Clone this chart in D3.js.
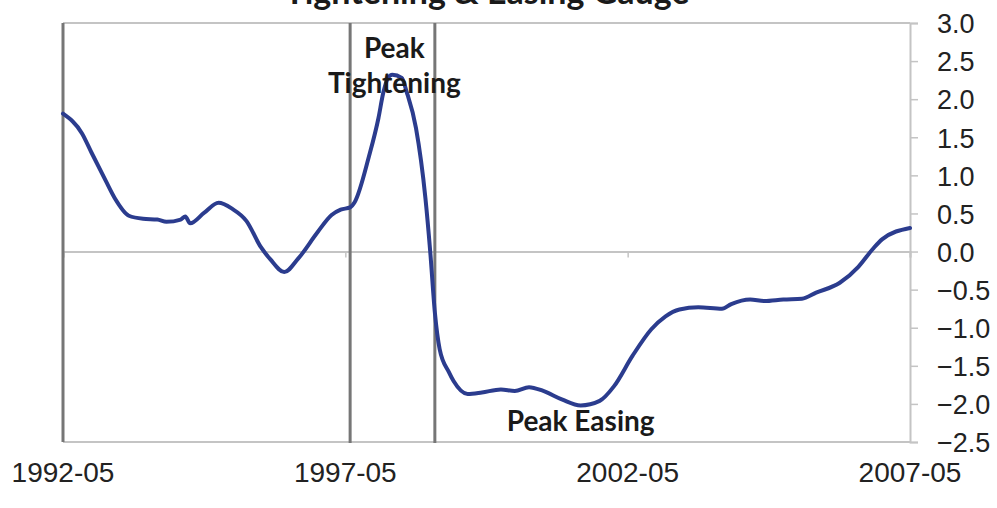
<!DOCTYPE html>
<html>
<head>
<meta charset="utf-8">
<script src="https://cdn.jsdelivr.net/npm/d3@7/dist/d3.min.js"></script>
<style>
  html, body { margin: 0; padding: 0; background: #ffffff; }
  svg { display: block; }
</style>
</head>
<body>
<svg id="chart" width="997" height="508"></svg>
<script>
// ---- data ----
const title = "Tightening & Easing Gauge";
const dates = ["1992-05","1992-09","1992-11","1993-02","1993-04","1993-07","1993-10","1994-01","1994-03","1994-06","1994-07","1994-08","1994-11","1995-02","1995-05","1995-08","1995-11","1996-01","1996-04","1996-07","1996-11","1997-02","1997-04","1997-06","1997-07","1997-10","1997-12","1998-01","1998-02","1998-03","1998-05","1998-06","1998-08","1998-10","1998-11","1998-12","1999-01","1999-03","1999-04","1999-07","1999-10","2000-02","2000-05","2000-08","2000-11","2001-03","2001-07","2001-11","2002-02","2002-06","2002-10","2003-01","2003-04","2003-08","2004-01","2004-03","2004-07","2004-10","2005-02","2005-06","2005-09","2006-02","2006-06","2006-09","2006-11","2007-05"];
const gauge = [1.81,1.55,1.30,0.93,0.70,0.47,0.43,0.42,0.39,0.42,0.46,0.37,0.51,0.64,0.56,0.40,0.06,-0.10,-0.27,-0.09,0.25,0.48,0.55,0.58,0.65,1.25,1.75,2.08,2.28,2.32,2.28,2.10,1.62,0.70,0.00,-0.80,-1.28,-1.58,-1.70,-1.87,-1.85,-1.81,-1.83,-1.78,-1.83,-1.94,-2.02,-1.96,-1.77,-1.37,-1.02,-0.85,-0.76,-0.73,-0.75,-0.69,-0.63,-0.65,-0.63,-0.62,-0.54,-0.41,-0.20,0.03,0.16,0.31];
const xTickLabels = ["1992-05","1997-05","2002-05","2007-05"];
const yTicks = [3.0,2.5,2.0,1.5,1.0,0.5,0.0,-0.5,-1.0,-1.5,-2.0,-2.5];
const eventDates = ["1997-06","1998-12"];
const annotations = [
  {lines: ["Peak","Tightening"], date: "1998-03", value: 2.08},
  {lines: ["Peak Easing"], date: "2001-07", value: -2.36}
];

// ---- layout ----
const svg = d3.select("#chart");
const L = 63, R = 910, T = 23, B = 442;
const parse = d3.timeParse("%Y-%m");
const x = d3.scaleTime().domain([parse("1992-05"), parse("2007-05")]).range([L, R]);
const y = d3.scaleLinear().domain([-2.5, 3.0]).range([B, T]);
const data = dates.map((d, i) => ({date: parse(d), v: gauge[i]}));

const light = "#c4c4c4", dark = "#767676";

// title (cut at top, as in the original)
svg.append("text").attr("x", 487).attr("y", 4).attr("text-anchor", "middle")
  .attr("font-family", "Lato, 'Open Sans', sans-serif").attr("font-weight", "bold")
  .attr("font-size", 34).attr("fill", "#1a1a1a").text(title);

// top & bottom borders
svg.append("line").attr("x1", L).attr("x2", R).attr("y1", T).attr("y2", T)
  .attr("stroke", light).attr("stroke-width", 2);
svg.append("line").attr("x1", L).attr("x2", R).attr("y1", B).attr("y2", B)
  .attr("stroke", light).attr("stroke-width", 2);

// right value axis
const yAxis = d3.axisRight(y).tickValues(yTicks).tickSize(8).tickFormat(d3.format(".1f"));
const gy = svg.append("g").attr("transform", `translate(${R},0)`).call(yAxis);
gy.select(".domain").attr("stroke", light).attr("stroke-width", 2);
gy.selectAll(".tick line").attr("stroke", light).attr("stroke-width", 1.5);
gy.selectAll(".tick text").attr("x", 27).attr("dy", "0.36em")
  .attr("font-family", "'Liberation Sans', Arial, sans-serif").attr("font-size", 27)
  .attr("fill", "#222");

// zero line with small ticks
const gx = svg.append("g").attr("transform", `translate(0,${y(0)})`)
  .call(d3.axisBottom(x).tickValues(xTickLabels.map(parse)).tickSize(6).tickFormat(""));
gx.select(".domain").attr("stroke", light).attr("stroke-width", 2);
gx.selectAll(".tick line").attr("stroke", light).attr("stroke-width", 1.5);

// x labels at bottom
svg.append("g").selectAll("text").data(xTickLabels).join("text")
  .attr("x", d => x(parse(d))).attr("y", 482).attr("text-anchor", "middle")
  .attr("font-family", "'Liberation Sans', Arial, sans-serif").attr("font-size", 28)
  .attr("fill", "#222").text(d => d);

// left border (dark) and event lines
svg.append("line").attr("x1", L).attr("x2", L).attr("y1", T).attr("y2", B)
  .attr("stroke", dark).attr("stroke-width", 3);
svg.append("g").selectAll("line").data(eventDates).join("line")
  .attr("x1", d => x(parse(d))).attr("x2", d => x(parse(d)))
  .attr("y1", T).attr("y2", B + 1)
  .attr("stroke", dark).attr("stroke-width", 3);

// series line
const line = d3.line().x(d => x(d.date)).y(d => y(d.v)).curve(d3.curveMonotoneX);
svg.append("path").datum(data).attr("d", line)
  .attr("fill", "none").attr("stroke", "#2b3c8e").attr("stroke-width", 4)
  .attr("stroke-linejoin", "round").attr("stroke-linecap", "round");

// annotations
annotations.forEach(a => {
  const n = a.lines.length;
  const t = svg.append("text").attr("text-anchor", "middle")
    .attr("font-family", "Lato, 'Open Sans', sans-serif").attr("font-weight", "bold")
    .attr("font-size", 28).attr("fill", "#1a1a1a");
  a.lines.forEach((s, i) => {
    t.append("tspan").attr("x", x(parse(a.date)) + (n > 1 ? 2 : 0))
      .attr("y", y(a.value) - (n - 1 - i) * 35).text(s);
  });
});
</script>
</body>
</html>
